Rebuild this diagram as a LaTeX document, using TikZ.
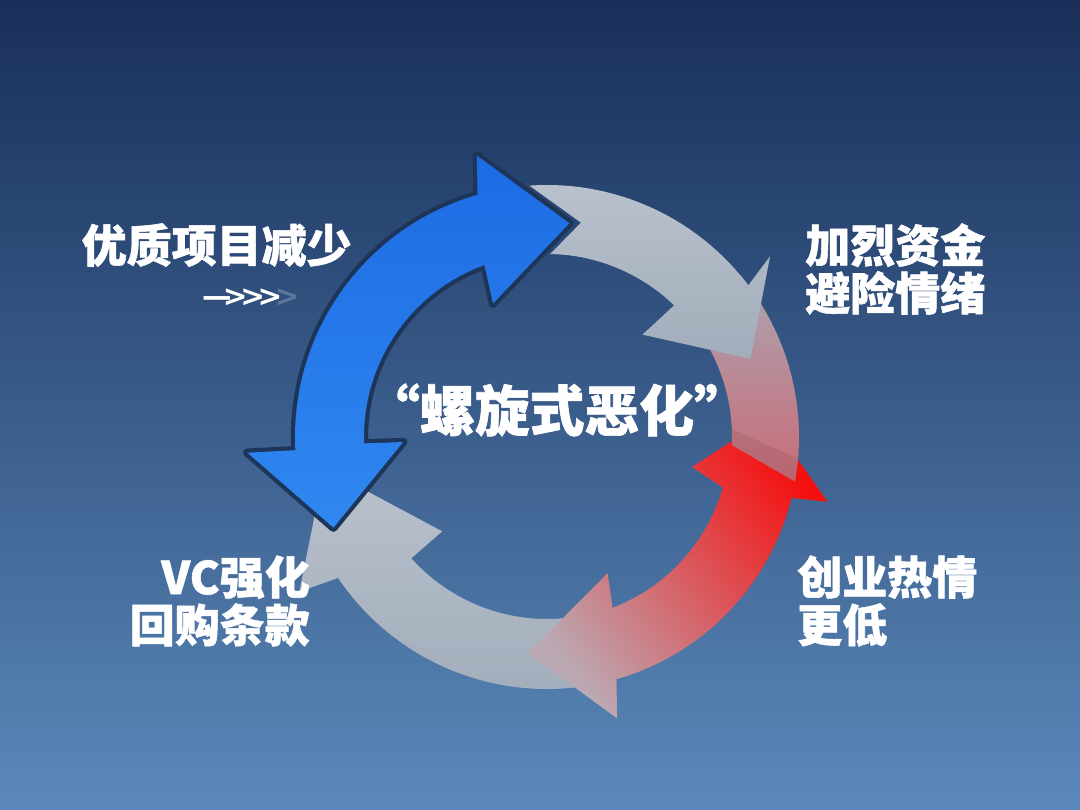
\documentclass[tikz,border=0pt]{standalone}
\usepackage{fontspec}
\usepackage{tikz}
\newfontfamily\cjk{Noto Sans CJK SC}[BoldFeatures={FakeBold=1.2}]
\newfontfamily\symf{DejaVu Sans}
\definecolor{bgtop}{HTML}{192F5A}
\definecolor{bgmid}{HTML}{27497C}
\definecolor{bgbot}{HTML}{5A89BA}
\definecolor{ringgap}{HTML}{1D3558}
\definecolor{blueA}{HTML}{1D6BE4}
\definecolor{blueB}{HTML}{1A62D4}
\definecolor{blueC}{HTML}{3088F0}
\definecolor{greyA}{HTML}{B9C1CC}
\definecolor{greyB}{HTML}{A2ADBB}
\definecolor{roseA}{HTML}{AAA5B1}
\definecolor{roseB}{HTML}{C96C78}
\definecolor{redA}{HTML}{F51010}
\definecolor{redB}{HTML}{D43E4C}
\definecolor{redC}{HTML}{BBAAB4}
\definecolor{fadegrey}{HTML}{5E7699}
\tikzset{
  steplabel/.style={
    text=white, inner sep=0pt, align=left,
    font=\cjk\bfseries\fontsize{32}{34}\selectfont},
  spirallabel/.style={
    steplabel, font=\cjk\bfseries\fontsize{39}{44}\selectfont},
  hintlabel/.style={
    text=white, inner sep=0pt, font=\symf\bfseries\fontsize{21}{21}\selectfont},
  ringcut/.style={
    preaction={draw=ringgap, line width=6pt, line join=round}},
}
\newcommand\chev{\kern-0.25em>}

\begin{document}
\begin{tikzpicture}[x=0.025cm, y=0.025cm]
  \useasboundingbox (-547,-373) rectangle (533,437);
  \shade[top color=bgtop, middle color=bgmid, bottom color=bgbot] (-547,-373) rectangle (533,437);

  % ring pieces, back to front
  \shade[top color=greyA, bottom color=greyB]
    (-78:252) arc[start angle=-78, end angle=-146, radius=252] -- (212:292) -- (188:225)
    -- (222:141) -- (-138.2:182) arc[start angle=-138.2, end angle=-78, radius=182] -- cycle;
  \shade[top color=redA, middle color=redB, bottom color=redC, shading angle=-52]
    (-13:288) -- (-14:252) arc[start angle=-14, end angle=-74, radius=252] -- (-76:290) -- (-95:217)
    -- (-66:149) -- (-69:183) arc[start angle=-69, end angle=-16, radius=183] -- (-11.7:148) -- (5:222) -- cycle;
  \shade[top color=roseA, bottom color=roseB]
    (40:252) arc[start angle=40, end angle=-10.2, radius=252] -- (-2.5:185)
    arc[start angle=-2.5, end angle=40, radius=185] -- cycle;
  \fill[black, opacity=0.07]
    (-2.5:185) arc[start angle=-2.5, end angle=2.5, radius=185] -- (-5:252)
    arc[start angle=-5, end angle=-10.2, radius=252] -- cycle;
  \shade[top color=greyA, bottom color=greyB]
    (94:252) arc[start angle=94, end angle=37, radius=252] -- (39:287) -- (21:218)
    -- (47:140) -- (46:183) arc[start angle=46, end angle=89, radius=183] -- (81:217) -- cycle;
  \shade[ringcut, top color=blueA, middle color=blueB, bottom color=blueC]
    (183:300) -- (183:252) arc[start angle=183, end angle=106, radius=252] -- (104:290) -- (84:215)
    -- (112:144) -- (110:183) arc[start angle=110, end angle=182, radius=183] -- (182:144) -- (203:232) -- cycle;

  \node[steplabel, anchor=east, align=right] (fewer) at (-195,192) {优质项目减少};
  \node[hintlabel, anchor=east] (hint) at (-247,139) {—\kern-0.3em>\chev\chev\textcolor{fadegrey}{\chev}};
  \node[steplabel, anchor=west] (fundfear) at (258,168) {加烈资金\\避险情绪};
  \node[steplabel, anchor=east, align=right] (buyback) at (-237,-164) {VC强化\\回购条款};
  \node[steplabel, anchor=west] (passion) at (250,-164) {创业热情\\更低};
  \node[spirallabel] (spiral) at (10,27) {“螺旋式恶化”};
\end{tikzpicture}
\end{document}
